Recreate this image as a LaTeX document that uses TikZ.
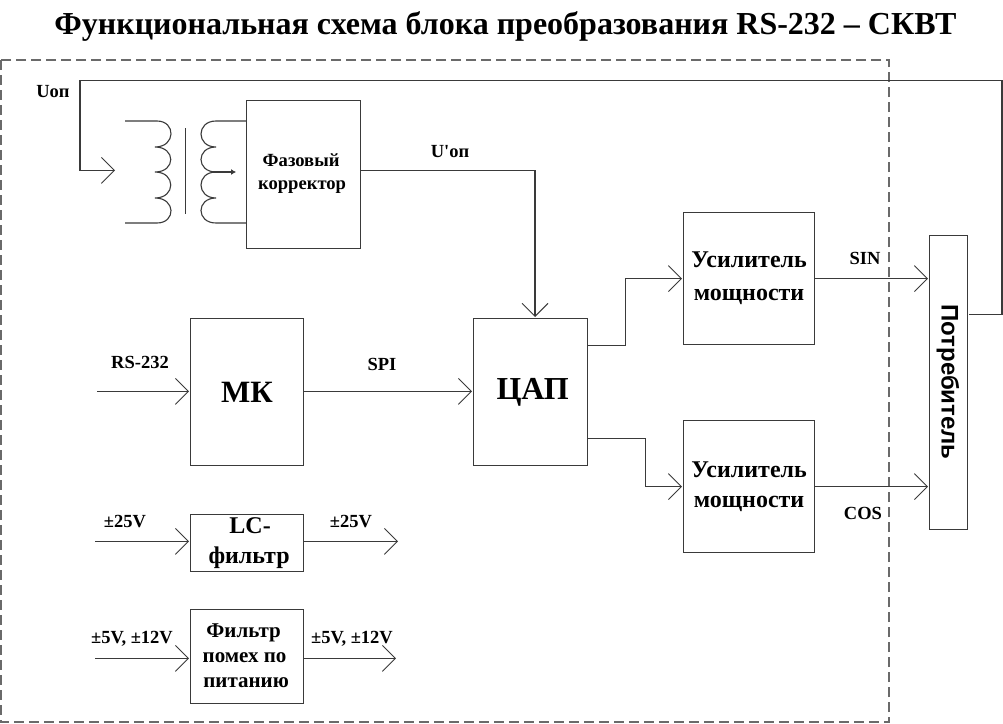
\documentclass[tikz,border=0pt]{standalone}
\usepackage{fontspec}
\setmainfont{Liberation Serif}
\newfontfamily\plainf{Liberation Serif}
\newfontfamily\sansb{Liberation Sans}
\usetikzlibrary{arrows.meta}
\definecolor{ln}{HTML}{3A3A3A}
\definecolor{dsh}{HTML}{6A6A6A}
\newcommand{\fs}[2]{\fontsize{#1}{#2}\selectfont\bfseries}
\tikzset{
  blk/.style={draw=ln,line width=1.2pt,fill=white,inner sep=0pt,align=center,anchor=north west},
  lbl/.style={inner sep=0pt,align=center,font=\fs{18.5}{20}},
  wire/.style={draw=ln,line width=1.1pt},
  arr/.style={wire,shorten >=1pt,-{Straight Barb[length=13pt,width=26pt,line width=0.9pt]}},
  coil/.style={draw=ln,line width=1.1pt}
}
\begin{document}
\begin{tikzpicture}[x=1pt,y=-1pt]
\useasboundingbox (0,0) rectangle (1003,723);
\fill[white] (0,0) rectangle (1003,723);
\node[inner sep=0pt,font=\fs{32}{34}] (title) at (505.5,26) {Функциональная схема блока преобразования RS-232 – СКВТ};
\draw[dsh,line width=1.4pt,dash pattern=on 10pt off 5pt] (1,60) rectangle (889,722);
% blocks
\node[blk,minimum width=114pt,minimum height=148pt,font=\fs{18.6}{23}] (fk) at (246,100) {\hspace*{-5pt}\raisebox{7pt}{Фазовый}\\\hspace*{-3pt}\raisebox{7pt}{корректор}};
\node[blk,minimum width=113pt,minimum height=147pt,font=\fs{31}{33}] (mk) at (190,318) {МК};
\node[blk,minimum width=114pt,minimum height=147pt,font=\fs{32}{34}] (cap) at (473,318) {\hspace*{4pt}\raisebox{-5pt}{ЦАП}};
\node[blk,minimum width=131pt,minimum height=132pt,font=\fs{24}{33}] (ua) at (683,212) {Усилитель\\мощности};
\node[blk,minimum width=131pt,minimum height=132pt,font=\fs{24}{30}] (ub) at (683,420) {Усилитель\\мощности};
\node[blk,minimum width=38pt,minimum height=294pt] (pt) at (929,235) {};
\node[inner sep=0pt,rotate=-90,font={\sansb\fontsize{24}{26}\selectfont\bfseries}] (ptt) at (948,382) {Потребитель};
\node[blk,minimum width=113pt,minimum height=57pt,font=\fs{24}{30}] (lc) at (190,514) {\hspace*{6pt}LC-\\\hspace*{4pt}фильтр};
\node[blk,minimum width=113pt,minimum height=94pt,font=\fs{21}{25}] (ff) at (190,609) {\raisebox{1pt}{\hspace*{-7pt}Фильтр}\\\raisebox{1pt}{\hspace*{-5pt}помех по}\\\raisebox{1pt}{\hspace*{-2pt}питанию}};
% free ends
\coordinate (uin) at (80,170.4);
\coordinate (utip) at (115,170.4);
\coordinate (rs) at (97,391.4);
\coordinate (a25) at (95,541.4);
\coordinate (b25) at (398,541.4);
\coordinate (a5) at (95,658.4);
\coordinate (b5) at (396,658.4);
\coordinate (ptout) at (969,314.4);
% Uop loop
\draw[arr,shorten >=0pt] (ptout) -- (1002,314.4) -- (1002,80.4) -- (80,80.4) -- (uin) -- (utip);
% connectors
\draw[arr] (fk.east |- uin) -- (535,170.4) -- (cap.north -| 535,0);
\draw[arr] (rs) -- (mk.west |- rs);
\draw[arr] (mk.east |- rs) -- (cap.west |- rs);
\draw[arr] ([yshift=46.5pt]cap.east) -- ++(37,0) |- (ua.west);
\draw[arr] ([yshift=-46.5pt]cap.east) -- ++(57,0) |- (ub.west);
\draw[arr] (ua.east) -- (pt.west |- ua.east);
\draw[arr] (ub.east) -- (pt.west |- ub.east);
\draw[arr] (a25) -- (lc.west |- a25);
\draw[arr,shorten >=0pt] (lc.east |- b25) -- (b25);
\draw[arr] (a5) -- (ff.west |- a5);
\draw[arr,shorten >=0pt] (ff.east |- b5) -- (b5);
% transformer
\draw[coil] (125,121) -- (157,121)
  .. controls (176,121) and (176,147) .. (155,147)
  .. controls (176,147) and (176,172) .. (155,172)
  .. controls (176,172) and (176,198) .. (155,198)
  .. controls (176,198) and (176,223) .. (157,223) -- (125,223);
\draw[coil] (fk.west |- 0,121) -- (216,121)
  .. controls (196,121) and (196,147) .. (216,147)
  .. controls (196,147) and (196,172) .. (216,172)
  .. controls (196,172) and (196,198) .. (216,198)
  .. controls (196,198) and (196,223) .. (216,223) -- (fk.west |- 0,223);
\draw[coil] (185.5,128) -- (185.5,214);
\draw[coil,-{Latex[length=5pt,width=6pt]}] (213,172) -- (236,172);
% labels
\node[lbl] (l1) at (53,92) {Uоп};
\node[lbl] (l2) at (450,152) {U{\plainf\bfseries '}оп};
\node[lbl] (l3) at (140,362) {RS-232};
\node[lbl] (l4) at (382,364) {SPI};
\node[lbl] (l5) at (865,258) {SIN};
\node[lbl] (l6) at (863,513) {COS};
\node[lbl] (l7) at (125,522) {±25V};
\node[lbl] (l8) at (351,522) {±25V};
\node[lbl] (l9) at (132,639) {±5V, ±12V};
\node[lbl] (l10) at (352,639) {±5V, ±12V};
\end{tikzpicture}
\end{document}
